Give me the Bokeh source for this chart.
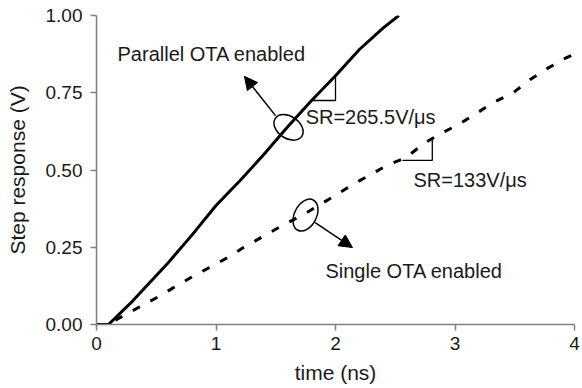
from bokeh.plotting import figure
from bokeh.models import (Range1d, FixedTicker, PrintfTickFormatter, Label,
                          Arrow, NormalHead)
from bokeh.embed import file_html
from bokeh.resources import INLINE

# ---- data ----
par_t = [0.0, 0.10, 0.30, 0.60, 0.80, 1.00, 1.20, 1.40, 1.60, 1.80, 2.00, 2.20, 2.40, 2.53]
par_v = [0.0, 0.0, 0.075, 0.20, 0.29, 0.385, 0.465, 0.55, 0.64, 0.725, 0.805, 0.89, 0.96, 1.0]

sgl_t = [0.0, 0.10, 0.18, 0.49, 0.79, 1.10, 1.23, 1.54, 1.75, 1.97, 2.13, 2.28, 2.43,
         2.59, 2.74, 2.88, 3.03, 3.19, 3.32, 3.49, 3.63, 3.77, 3.92, 4.0]
sgl_v = [0.0, 0.0, 0.019, 0.084, 0.152, 0.217, 0.249, 0.317, 0.36, 0.411, 0.45, 0.482,
         0.515, 0.54, 0.586, 0.618, 0.647, 0.686, 0.718, 0.751, 0.793, 0.828, 0.861, 0.875]

x_ticks = [0, 1, 2, 3, 4]
y_ticks = [0.0, 0.25, 0.5, 0.75, 1.0]

x_label = "time (ns)"
y_label = "Step response (V)"

# annotation texts and anchor positions (data units)
ann_texts = ["Parallel OTA enabled", "SR=265.5V/\u03bcs", "SR=133V/\u03bcs", "Single OTA enabled"]
ann_x = [0.176, 1.75, 2.653, 1.916]
ann_y = [0.874, 0.673, 0.469, 0.172]

tri1_x = [1.81, 2.0, 2.0]
tri1_y = [0.725, 0.725, 0.806]
tri2_x = [2.56, 2.81, 2.81]
tri2_y = [0.531, 0.531, 0.602]

ell_x = [1.607, 1.749]
ell_y = [0.638, 0.354]

arr1 = (1.498, 0.676, 1.238, 0.803)
arr2 = (1.83, 0.330, 2.142, 0.249)

FONT = "Liberation Sans"
TXT = "#1a1a1a"
AX = "#808080"

p = figure(width=582, height=388, output_backend="svg", toolbar_location=None,
           x_range=Range1d(0, 4), y_range=Range1d(0, 1),
           min_border_left=96, min_border_right=8, min_border_top=15, min_border_bottom=64)
p.outline_line_color = None
p.xgrid.visible = False
p.ygrid.visible = False
p.background_fill_color = "white"
p.border_fill_color = "white"

p.line(par_t, par_v, line_color="black", line_width=3)
p.line(sgl_t, sgl_v, line_color="black", line_width=3, line_dash="8 12")

for ax in (p.xaxis[0], p.yaxis[0]):
    ax.axis_line_color = AX
    ax.axis_line_width = 1.5
    ax.major_tick_line_color = AX
    ax.major_tick_line_width = 1.5
    ax.major_tick_out = 6
    ax.major_tick_in = 0
    ax.minor_tick_line_color = None
    ax.major_label_text_font = FONT
    ax.major_label_text_color = TXT
    ax.major_label_text_font_size = "19px"
    ax.axis_label_text_font = FONT
    ax.axis_label_text_color = TXT
    ax.axis_label_text_font_size = "21px"
    ax.axis_label_text_font_style = "normal"

p.xaxis.ticker = FixedTicker(ticks=x_ticks)
p.yaxis.ticker = FixedTicker(ticks=y_ticks)
p.yaxis.formatter = PrintfTickFormatter(format="%.2f")
p.xaxis.axis_label = x_label
p.yaxis.axis_label = y_label
p.xaxis.major_label_standoff = 6
p.yaxis.major_label_standoff = 8
p.xaxis.axis_label_standoff = 8
p.yaxis.axis_label_standoff = 14

for t, x, y in zip(ann_texts, ann_x, ann_y):
    p.add_layout(Label(x=x, y=y, text=t, text_font=FONT, text_font_size="20px",
                       text_color=TXT, text_baseline="middle", text_align="left"))

p.line(tri1_x, tri1_y, line_color="black", line_width=1.3)
p.line(tri2_x, tri2_y, line_color="black", line_width=1.3)

p.ellipse(x=[ell_x[0]], y=[ell_y[0]], width=32, height=22, angle=-0.6,
          width_units="screen", height_units="screen",
          fill_color=None, line_color="black", line_width=1.5)
p.ellipse(x=[ell_x[1]], y=[ell_y[1]], width=34, height=22, angle=1.1,
          width_units="screen", height_units="screen",
          fill_color=None, line_color="black", line_width=1.5)

for a in (arr1, arr2):
    p.add_layout(Arrow(end=NormalHead(size=13, fill_color="black", line_color="black"),
                       x_start=a[0], y_start=a[1], x_end=a[2], y_end=a[3],
                       line_color="black", line_width=1.5))

open("out.html", "w").write(file_html(p, INLINE))
